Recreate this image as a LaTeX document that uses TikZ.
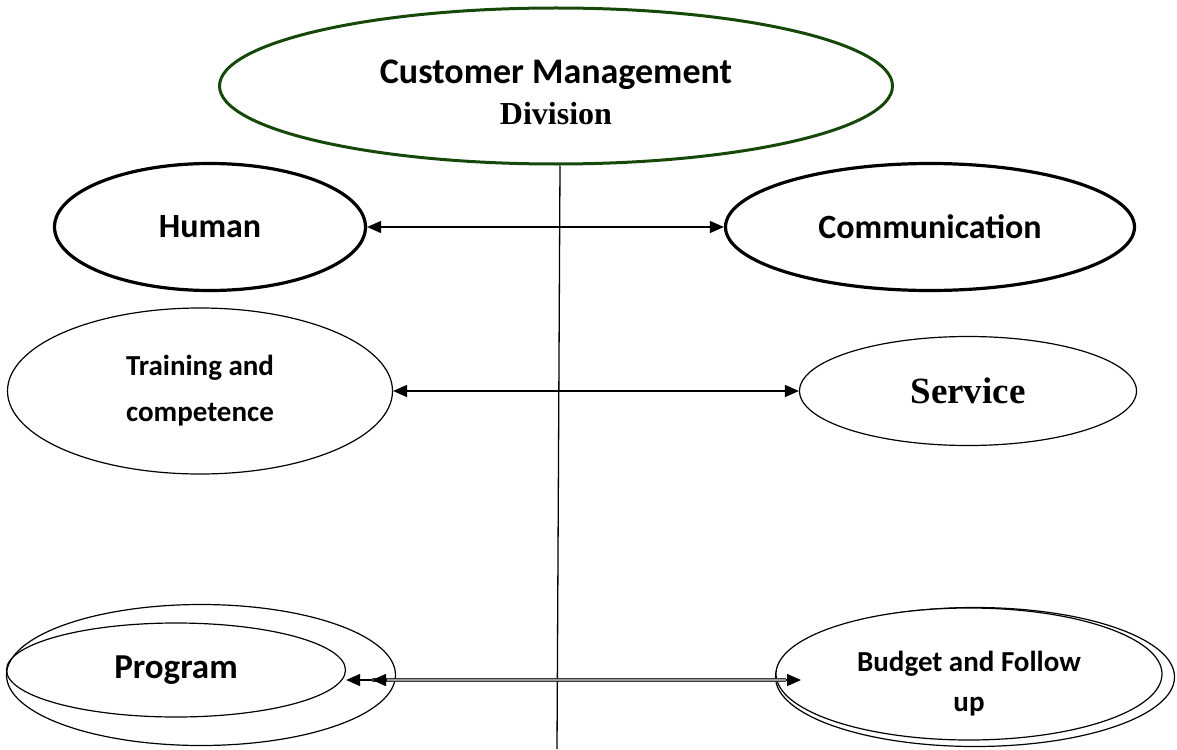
\documentclass[tikz,border=0pt]{standalone}
\usepackage{fontspec}
\usepackage{tikz}
\usetikzlibrary{shapes,arrows.meta}
\newfontfamily\calibri{Carlito}
\newfontfamily\timesrm{Liberation Serif}
\definecolor{divgreen}{RGB}{22,72,10}
\tikzset{
  oval/.style={ellipse, draw, inner sep=0pt, align=center, font=\calibri\bfseries},
  topoval/.style={oval, draw=divgreen, line width=3pt},
  boldoval/.style={oval, line width=3.2pt},
  thinoval/.style={oval, line width=1.2pt},
  link/.style={line width=1.4pt, {Triangle[length=14pt,width=12pt]}-{Triangle[length=14pt,width=12pt]}},
  onetip/.style={line width=1.4pt, -{Triangle[length=14pt,width=12pt]}},
  dblline/.style={draw=gray!45!black, double=gray!80, double distance=1.8pt, line width=0.8pt}
}

\begin{document}
\begin{tikzpicture}[x=1pt,y=-1pt]
\useasboundingbox (0,0) rectangle (1177,749);

% head of the division
\node[topoval, minimum width=673pt, minimum height=156pt,
      font=\calibri\bfseries\fontsize{36}{41}\selectfont] (division) at (556,86)
  {\rule{0pt}{36pt}Customer Management\\{\timesrm\fontsize{32}{40}\selectfont Division}};
\coordinate (foot) at (557,749);
\draw[line width=1.3pt] ([xshift=4pt]division.south) -- (foot);

% first row
\node[boldoval, minimum width=311pt, minimum height=127pt,
      font=\calibri\bfseries\fontsize{34}{40}\selectfont] (human) at (210,227) {Human};
\node[boldoval, minimum width=409pt, minimum height=127pt,
      font=\calibri\bfseries\fontsize{34}{40}\selectfont] (comm) at (930,227) {Communication};
\draw[link] (human.east) -- (comm.west);

% second row
\node[thinoval, minimum width=385pt, minimum height=166pt,
      font=\calibri\bfseries\fontsize{29}{46}\selectfont] (training) at (200,391)
  {Training and\\competence};
\node[thinoval, minimum width=337pt, minimum height=109pt,
      font=\timesrm\bfseries\fontsize{37}{40}\selectfont] (service) at (968,391) {Service};
\draw[link] (training.east) -- (service.west);

% third row, each oval drawn twice
\node[thinoval, minimum width=389pt, minimum height=141pt] (progback) at (201,675) {};
\node[thinoval, minimum width=339pt, minimum height=94pt,
      font=\calibri\bfseries\fontsize{35}{40}\selectfont] (program) at (176,670) {Program};
\node[thinoval, minimum width=399pt, minimum height=139pt] (budgback) at (975,677) {};
\node[thinoval, fill=white, minimum width=386pt, minimum height=132pt,
      font=\calibri\bfseries\fontsize{29}{40}\selectfont] (budget) at (969,674)
  {\rule{0pt}{40pt}Budget and Follow\\up};

\coordinate (progtip) at (372,680);
\coordinate (budgbase) at (786,680);
\coordinate (budgtip) at (801,680);
\draw[dblline] (progtip) -- (budgbase);
\draw[onetip] ([xshift=15pt]progtip) -- (progtip);
\draw[onetip] (progtip) -- (progtip -| program.east);
\draw[onetip] (budgbase) -- (budgtip);
\end{tikzpicture}
\end{document}
